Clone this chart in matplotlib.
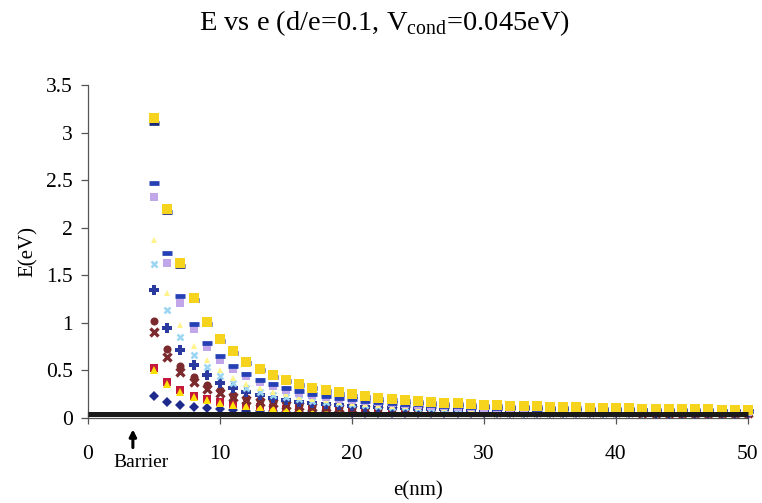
import matplotlib
matplotlib.use("Agg")
import matplotlib.pyplot as plt

plt.rcParams["font.family"] = ["Liberation Serif", "DejaVu Serif"]
plt.rcParams["mathtext.fontset"] = "custom"
plt.rcParams["mathtext.rm"] = "Liberation Serif"

# well width e (nm)
e_nm = list(range(5, 51))

# energy levels E (eV) for each series
E_navy_diamond = [0.23, 0.173, 0.139, 0.117, 0.102, 0.091, 0.083, 0.077, 0.072, 0.069,
                  0.066, 0.063, 0.061, 0.059, 0.058, 0.057, 0.056, 0.055, 0.054, 0.053,
                  0.052, 0.052, 0.051, 0.051, 0.050, 0.050, 0.050, 0.049, 0.049, 0.049,
                  0.049, 0.049, 0.048, 0.048, 0.048, 0.048, 0.048, 0.048, 0.047, 0.047,
                  0.047, 0.047, 0.047, 0.047, 0.047, 0.047]
E_magenta_square = [0.53, 0.382, 0.292, 0.234, 0.195, 0.166, 0.145, 0.129, 0.117, 0.107,
                    0.099, 0.092, 0.087, 0.082, 0.079, 0.075, 0.073, 0.070, 0.068, 0.066,
                    0.064, 0.063, 0.062, 0.060, 0.059, 0.058, 0.058, 0.057, 0.056, 0.055,
                    0.055, 0.054, 0.054, 0.053, 0.053, 0.053, 0.052, 0.052, 0.052, 0.051,
                    0.051, 0.051, 0.050, 0.050, 0.050, 0.050]
E_yellow_triangle = [0.50, 0.361, 0.277, 0.223, 0.185, 0.159, 0.139, 0.124, 0.112, 0.103,
                     0.096, 0.089, 0.084, 0.080, 0.077, 0.073, 0.071, 0.069, 0.067, 0.065,
                     0.063, 0.062, 0.061, 0.060, 0.059, 0.058, 0.057, 0.056, 0.055, 0.055,
                     0.054, 0.054, 0.053, 0.053, 0.052, 0.052, 0.052, 0.051, 0.051, 0.051,
                     0.051, 0.050, 0.050, 0.050, 0.050, 0.050]
E_maroon_x = [0.90, 0.639, 0.481, 0.379, 0.309, 0.259, 0.222, 0.193, 0.171, 0.154,
              0.140, 0.129, 0.119, 0.111, 0.104, 0.098, 0.094, 0.089, 0.085, 0.082,
              0.079, 0.077, 0.074, 0.072, 0.070, 0.069, 0.067, 0.066, 0.065, 0.063,
              0.062, 0.061, 0.061, 0.060, 0.059, 0.058, 0.058, 0.057, 0.057, 0.056,
              0.056, 0.055, 0.055, 0.054, 0.054, 0.054]
E_maroon_circle = [1.02, 0.722, 0.542, 0.426, 0.346, 0.289, 0.246, 0.214, 0.189, 0.169,
                   0.153, 0.140, 0.129, 0.120, 0.113, 0.106, 0.100, 0.095, 0.091, 0.087,
                   0.084, 0.081, 0.078, 0.076, 0.074, 0.072, 0.070, 0.069, 0.067, 0.066,
                   0.065, 0.064, 0.063, 0.062, 0.061, 0.060, 0.060, 0.059, 0.058, 0.058,
                   0.057, 0.056, 0.056, 0.056, 0.055, 0.055]
E_blue_plus = [1.35, 0.951, 0.711, 0.555, 0.448, 0.371, 0.315, 0.272, 0.238, 0.211,
               0.190, 0.172, 0.158, 0.146, 0.135, 0.127, 0.119, 0.112, 0.107, 0.102,
               0.097, 0.093, 0.090, 0.087, 0.084, 0.081, 0.079, 0.077, 0.075, 0.073,
               0.072, 0.070, 0.069, 0.068, 0.066, 0.065, 0.064, 0.063, 0.063, 0.062,
               0.061, 0.060, 0.060, 0.059, 0.059, 0.058]
E_skyblue_x = [1.62, 1.139, 0.849, 0.660, 0.531, 0.439, 0.370, 0.318, 0.278, 0.246,
               0.220, 0.199, 0.181, 0.167, 0.154, 0.143, 0.134, 0.126, 0.119, 0.113,
               0.108, 0.103, 0.099, 0.095, 0.092, 0.089, 0.086, 0.083, 0.081, 0.079,
               0.077, 0.075, 0.074, 0.072, 0.071, 0.070, 0.068, 0.067, 0.066, 0.065,
               0.064, 0.064, 0.063, 0.062, 0.061, 0.061]
E_paleyellow_tri = [1.87, 1.312, 0.976, 0.758, 0.608, 0.501, 0.422, 0.362, 0.315, 0.278,
                    0.248, 0.223, 0.203, 0.186, 0.171, 0.159, 0.148, 0.139, 0.131, 0.124,
                    0.118, 0.113, 0.108, 0.103, 0.099, 0.096, 0.092, 0.090, 0.087, 0.084,
                    0.082, 0.080, 0.078, 0.077, 0.075, 0.074, 0.072, 0.071, 0.070, 0.069,
                    0.068, 0.067, 0.066, 0.065, 0.064, 0.063]
E_lavender_square = [2.32, 1.625, 1.21, 0.934, 0.747, 0.614, 0.515, 0.440, 0.381, 0.335,
                     0.298, 0.267, 0.242, 0.221, 0.203, 0.187, 0.174, 0.163, 0.153, 0.144,
                     0.136, 0.129, 0.123, 0.118, 0.113, 0.108, 0.104, 0.100, 0.097, 0.094,
                     0.091, 0.089, 0.087, 0.084, 0.082, 0.081, 0.079, 0.077, 0.076, 0.074,
                     0.073, 0.072, 0.071, 0.070, 0.069, 0.068]
E_blue_dash = [2.47, 1.73, 1.28, 0.99, 0.79, 0.651, 0.546, 0.466, 0.404, 0.354,
               0.314, 0.282, 0.255, 0.232, 0.213, 0.197, 0.183, 0.170, 0.160, 0.150,
               0.142, 0.135, 0.128, 0.122, 0.117, 0.112, 0.108, 0.104, 0.100, 0.097,
               0.094, 0.092, 0.089, 0.087, 0.085, 0.083, 0.081, 0.080, 0.078, 0.076,
               0.075, 0.074, 0.072, 0.071, 0.070, 0.069]
E_navy_dash = [3.10, 2.17, 1.60, 1.24, 0.99, 0.809, 0.68, 0.575, 0.50, 0.435,
               0.385, 0.345, 0.31, 0.28, 0.255, 0.236, 0.22, 0.20, 0.19, 0.177,
               0.167, 0.158, 0.15, 0.142, 0.136, 0.130, 0.124, 0.119, 0.115, 0.111,
               0.107, 0.104, 0.101, 0.098, 0.095, 0.093, 0.090, 0.088, 0.086, 0.084,
               0.083, 0.081, 0.080, 0.078, 0.077, 0.076]
E_gold_square = [3.15, 2.20, 1.63, 1.26, 1.01, 0.83, 0.70, 0.59, 0.51, 0.45,
                 0.40, 0.36, 0.32, 0.29, 0.27, 0.25, 0.23, 0.215, 0.20, 0.19,
                 0.18, 0.17, 0.16, 0.154, 0.147, 0.141, 0.135, 0.131, 0.126, 0.122,
                 0.118, 0.115, 0.112, 0.109, 0.106, 0.103, 0.101, 0.099, 0.097, 0.095,
                 0.093, 0.092, 0.090, 0.089, 0.087, 0.086]

# conduction band offset
V_cond = 0.045
barrier_x = 3.4

fig = plt.figure(figsize=(7.62, 5.03), dpi=100)
ax = fig.add_axes([0.1155, 0.169, 0.866, 0.662])

series = [
    (E_navy_diamond,    dict(marker="D", ms=4.8, color="#1e2b8c", mew=0)),
    (E_magenta_square,  dict(marker="s", ms=5.8, color="#c3183c", mew=0)),
    (E_yellow_triangle, dict(marker="^", ms=5.2, color="#ffe100", mew=0)),
    (E_maroon_x,        dict(marker="x", ms=5.2, color="#7b2a2e", mew=2.4)),
    (E_maroon_circle,   dict(marker="o", ms=5.8, color="#7b2a2e", mew=0)),
    (E_blue_plus,       dict(marker="P", ms=6.6, color="#2a3a9e", mew=0)),
    (E_skyblue_x,       dict(marker="x", ms=4.2, color="#9cd6f2", mew=1.8)),
    (E_paleyellow_tri,  dict(marker="^", ms=4.8, color="#fff38a", mew=0)),
    (E_lavender_square, dict(marker="s", ms=5.6, color="#c2a6ea", mew=0)),
    (E_blue_dash,       dict(marker="_", ms=6.5, color="#2440b4", mew=3.4)),
    (E_navy_dash,       dict(marker="_", ms=6.5, color="#1b2a78", mew=3.4)),
    (E_gold_square,     dict(marker="s", ms=6.6, color="#f6d31c", mew=0)),
]
for i, (vals, st) in enumerate(series):
    ax.plot(e_nm, vals, linestyle="none", zorder=3 + i * 0.01, clip_on=False, **st)

ax.plot([0, 50], [V_cond, V_cond], color="#1a1a1a", lw=3.6, zorder=5,
        solid_capstyle="butt", clip_on=False)

ax.set_xlim(0, 50)
ax.set_ylim(0, 3.5)
ax.set_xticks([0, 10, 20, 30, 40, 50])
ax.set_yticks([0, 0.5, 1, 1.5, 2, 2.5, 3, 3.5])
ax.set_yticklabels(["0", "0.5", "1", "1.5", "2", "2.5", "3", "3.5"])

for s in ("top", "right"):
    ax.spines[s].set_visible(False)
for s in ("left", "bottom"):
    ax.spines[s].set_color("#555555")
    ax.spines[s].set_linewidth(0.9)

ax.tick_params(axis="y", direction="out", length=5, width=0.9, color="#555555",
               labelsize=15.5, pad=6)
ax.tick_params(axis="x", direction="inout", length=9, width=0.9, color="#555555",
               labelsize=15.5, pad=15)

ax.set_xlabel("e(nm)", fontsize=15, labelpad=12)
ax.set_ylabel("E(eV)", fontsize=15, labelpad=6)

fig.text(0.505, 0.955, "E vs e (d/e=0.1, V$_{\\mathrm{cond}}$=0.045eV)",
         ha="center", va="center", fontsize=20.5)

ax.annotate("", xy=(barrier_x, -0.09), xytext=(barrier_x, -0.34),
            xycoords="data", textcoords="data",
            arrowprops=dict(arrowstyle="-|>", color="black", lw=2.2,
                            mutation_scale=10),
            annotation_clip=False)
ax.text(barrier_x + 0.6, -0.47, "Barrier", ha="center", va="center",
        fontsize=14, clip_on=False)

fig.savefig("out.png", dpi=100)
